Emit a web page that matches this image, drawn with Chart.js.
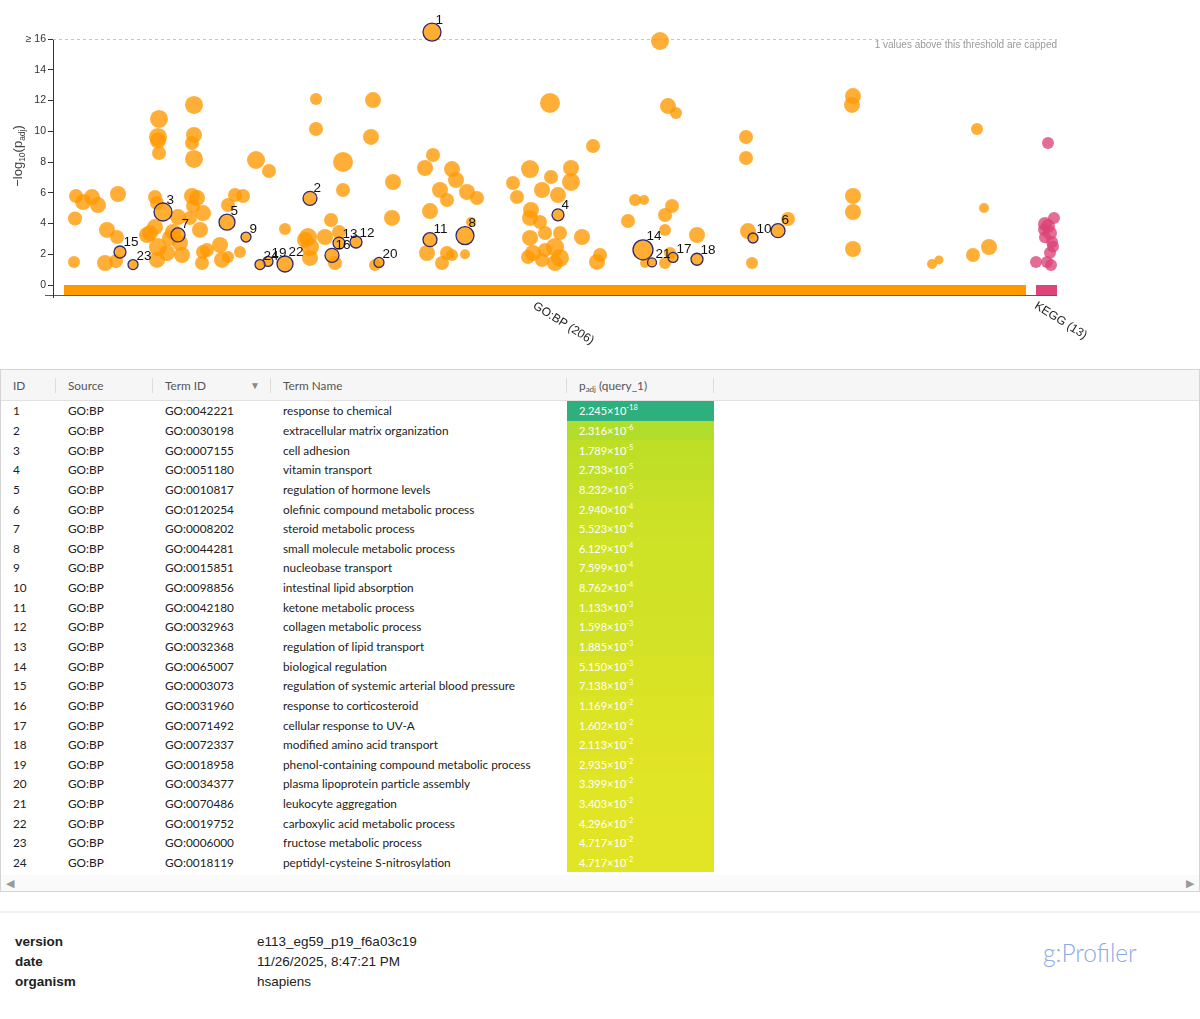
<!DOCTYPE html>
<html>
<head>
<meta charset="utf-8">
<script src="https://cdn.jsdelivr.net/npm/chart.js@4.4.0/dist/chart.umd.min.js"></script>
<style>
  body { margin: 0; background: #fff; font-family: Lato, "Open Sans", sans-serif; }
  #plot { position: absolute; left: 0; top: 0; width: 1200px; height: 360px; }
  #tbl { position: absolute; left: 0; top: 369px; width: 1198px; height: 521px; border: 1px solid #d4d4d4; overflow: hidden; }
  table { border-collapse: collapse; table-layout: fixed; width: 1198px; font-size: 11.8px; color: #222; }
  th { height: 30px; background: #f6f6f6; font-weight: normal; color: #555; text-align: left; padding: 0 0 0 12px; position: relative; border-bottom: 1px solid #e2e2e2; white-space: nowrap; }
  th.sep::after { content: ''; position: absolute; right: 0; top: 8px; height: 15px; border-right: 1px solid #dcdcdc; }
  td { height: 19.65px; padding: 0 0 0 12px; white-space: nowrap; }
  td.p { color: #fff; font-size: 11px; }
  sup { font-size: 7.5px; vertical-align: 5px; line-height: 0; }
  sub { font-size: 8px; vertical-align: -2px; line-height: 0; }
  #scroll { position: absolute; left: 0; bottom: 0; width: 1198px; height: 16px; background: #fafafa; }
  #scroll span { position: absolute; top: 1px; color: #999; font-size: 11px; }
  #hr { position: absolute; left: 0; top: 911px; width: 1200px; height: 2px; background: #f0f0f0; }
  .meta { position: absolute; left: 15px; font: 13.5px "Liberation Sans", Arial, sans-serif; color: #222; }
  .meta b { display: inline-block; width: 242px; }
  #logo { position: absolute; left: 1043px; top: 938px; font: 300 24.5px Lato, sans-serif; color: #8eaae2; }
</style>
</head>
<body>
<div id="plot"><canvas id="myChart" width="1200" height="360"></canvas></div>
<div id="tbl">
  <table id="terms"></table>
  <div id="scroll"><span style="left:5px">&#9664;</span><span style="right:5px">&#9654;</span></div>
</div>
<div id="hr"></div>
<div class="meta" style="top:934px"><b>version</b>e113_eg59_p19_f6a03c19</div>
<div class="meta" style="top:954px"><b>date</b>11/26/2025, 8:47:21 PM</div>
<div class="meta" style="top:974px"><b>organism</b>hsapiens</div>
<div id="logo">g:Profiler</div>
<script>
// eixo y
var yTicks = [0, 2, 4, 6, 8, 10, 12, 14, 16];
var yCap = 16;
var capShown = 16.45;

// fontes de dados (barras no eixo x)
var srcNames = ["GO:BP", "KEGG"];
var srcCounts = [206, 13];
var srcFrom = [64, 1036];
var srcTo = [1026, 1057];
var srcColors = ["#ff9900", "#dd4477"];

// pontos GO:BP (posicao, -log10 padj, tamanho)
var goX = [76, 75, 74, 83, 92, 98, 107, 105, 118, 117, 116, 147, 150, 155, 157, 155, 159, 158, 158, 159,
  158, 167, 157, 170, 173, 178, 180, 182, 190, 192, 193, 200, 203, 194, 194, 192, 194, 197, 203, 202,
  207, 220, 222, 228, 235, 243, 228, 240, 256, 269, 285, 305, 308, 310, 310, 316, 316, 343, 343, 331,
  325, 339, 335, 373, 371, 393, 392, 375, 433, 425, 440, 447, 452, 456, 467, 477, 430, 427, 442, 447,
  452, 465, 471, 513, 517, 530, 542, 551, 571, 571, 558, 550, 593, 531, 530, 540, 530, 545, 560, 582,
  533, 545, 555, 560, 555, 542, 528, 597, 600, 628, 635, 644, 668, 676, 660, 672, 665, 665, 670, 665,
  645, 697, 746, 746, 748, 752, 788, 853, 852, 853, 853, 853, 932, 939, 973, 989, 977, 984];
var goY = [5.79, 4.33, 1.50, 5.40, 5.72, 5.20, 3.58, 1.43, 5.92, 3.12, 1.55, 3.25, 3.38, 3.77, 5.33, 5.72, 10.80, 9.63, 9.40, 8.59,
  2.47, 2.08, 1.63, 3.06, 3.45, 4.42, 2.73, 1.95, 4.36, 5.79, 5.14, 3.58, 4.68, 11.71, 9.76, 9.24, 8.20, 5.66, 2.15, 1.43,
  2.28, 2.60, 1.63, 1.82, 5.85, 5.79, 5.20, 2.15, 8.13, 7.41, 3.64, 2.93, 3.12, 2.47, 1.76, 12.10, 10.15, 8.00, 6.18, 4.23,
  3.12, 3.45, 1.43, 12.03, 9.63, 6.70, 4.36, 1.30, 8.46, 7.61, 6.18, 5.53, 7.54, 6.83, 6.05, 5.66, 4.81, 2.08, 1.43, 2.08,
  1.95, 2.00, 4.10, 6.63, 5.72, 7.54, 6.18, 7.02, 7.61, 6.70, 5.85, 11.84, 9.04, 4.88, 4.36, 4.10, 3.06, 3.38, 3.38, 3.12,
  2.08, 2.28, 2.47, 1.76, 1.43, 1.63, 1.82, 1.50, 1.95, 4.16, 5.53, 5.53, 11.64, 11.19, 15.87, 5.14, 4.55, 3.58, 2.08, 1.43,
  1.43, 3.25, 9.63, 8.26, 3.51, 1.43, 4.29, 12.29, 11.71, 5.79, 4.75, 2.34, 1.37, 1.63, 1.95, 2.47, 10.15, 5.01];
var goR = [7, 7, 6, 8, 8, 8, 8, 8, 8, 7, 7, 8, 8, 8, 7, 7, 9, 9, 8, 7,
  9, 8, 8, 8, 8, 8, 8, 8, 7, 8, 7, 8, 8, 9, 8, 7, 9, 8, 7, 7,
  7, 8, 8, 6, 7, 7, 7, 6, 9, 7, 6, 8, 9, 9, 8, 6, 7, 10, 7, 7,
  8, 7, 7, 8, 8, 8, 8, 6, 7, 8, 8, 7, 8, 8, 8, 7, 8, 8, 7, 7,
  6, 5, 5, 7, 7, 9, 8, 7, 8, 9, 8, 10, 7, 8, 8, 7, 8, 7, 7, 8,
  8, 7, 9, 9, 8, 7, 7, 8, 7, 7, 6, 5, 8, 6, 9, 7, 7, 6, 6, 6,
  5, 8, 7, 7, 8, 6, 7, 8, 8, 8, 8, 8, 5, 4.5, 7, 8, 6, 5, 6];

// pontos KEGG
var keggX = [1048, 1054, 1045, 1048, 1050, 1045, 1052, 1050, 1053, 1036, 1047, 1051, 1044];
var keggY = [9.24, 4.36, 3.97, 3.84, 3.38, 3.10, 2.80, 2.10, 2.50, 1.50, 1.50, 1.30, 3.60];
var keggR = [6, 6, 7, 7, 7, 6, 6, 6, 6, 6, 6, 6, 6];

// termos destacados (tabela)
var hlX = [432, 310, 163, 558, 227, 778, 178, 465, 246, 753, 430, 356, 339, 643, 120, 332, 673, 697, 268, 379, 652, 285, 133, 260];
var hlR = [9, 7, 9, 6, 8, 7, 7, 9, 5, 5, 7, 6, 6, 10, 6, 7, 5, 6, 5, 5, 4.5, 8, 5, 5];
var termIds = ["GO:0042221", "GO:0030198", "GO:0007155", "GO:0051180", "GO:0010817", "GO:0120254", "GO:0008202", "GO:0044281",
  "GO:0015851", "GO:0098856", "GO:0042180", "GO:0032963", "GO:0032368", "GO:0065007", "GO:0003073", "GO:0031960",
  "GO:0071492", "GO:0072337", "GO:0018958", "GO:0034377", "GO:0070486", "GO:0019752", "GO:0006000", "GO:0018119"];
var termNames = ["response to chemical", "extracellular matrix organization", "cell adhesion", "vitamin transport",
  "regulation of hormone levels", "olefinic compound metabolic process", "steroid metabolic process",
  "small molecule metabolic process", "nucleobase transport", "intestinal lipid absorption", "ketone metabolic process",
  "collagen metabolic process", "regulation of lipid transport", "biological regulation",
  "regulation of systemic arterial blood pressure", "response to corticosteroid", "cellular response to UV-A",
  "modified amino acid transport", "phenol-containing compound metabolic process", "plasma lipoprotein particle assembly",
  "leukocyte aggregation", "carboxylic acid metabolic process", "fructose metabolic process", "peptidyl-cysteine S-nitrosylation"];
var pMant = ["2.245", "2.316", "1.789", "2.733", "8.232", "2.940", "5.523", "6.129", "7.599", "8.762", "1.133", "1.598",
  "1.885", "5.150", "7.138", "1.169", "1.602", "2.113", "2.935", "3.399", "3.403", "4.296", "4.717", "4.717"];
var pExp = [-18, -6, -5, -5, -5, -4, -4, -4, -4, -4, -3, -3, -3, -3, -3, -2, -2, -2, -2, -2, -2, -2, -2, -2];

function negLog(i) {
  return -Math.log10(parseFloat(pMant[i])) - pExp[i];
}

// cores da tabela (escala viridis)
var vir = [[0.5, 33, 145, 140], [0.6, 34, 168, 132], [0.7, 68, 191, 112], [0.8, 122, 209, 81], [0.9, 189, 223, 38], [1.0, 240, 231, 37]];
function cellColor(v) {
  var t = Math.max(0.5, Math.min(1, 1 - v / 48));
  for (var k = 0; k < vir.length - 1; k++) {
    if (t <= vir[k + 1][0]) {
      var f = (t - vir[k][0]) / (vir[k + 1][0] - vir[k][0]);
      var c = [1, 2, 3].map(function (j) { return Math.round(vir[k][j] + f * (vir[k + 1][j] - vir[k][j])); });
      return "rgb(" + c.join(",") + ")";
    }
  }
  return "rgb(240,231,37)";
}

var html = '<colgroup><col style="width:55px"><col style="width:97px"><col style="width:118px"><col style="width:296px"><col style="width:147px"><col></colgroup>';
html += '<tr><th class="sep">ID</th><th class="sep">Source</th><th class="sep">Term ID<span style="position:absolute;left:97px;top:9px;color:#888;font-size:10px">&#9660;</span></th><th class="sep">Term Name</th><th class="sep">p<sub>adj</sub> (query_1)</th><th></th></tr>';
for (var i = 0; i < termIds.length; i++) {
  html += "<tr><td>" + (i + 1) + "</td><td>GO:BP</td><td>" + termIds[i] + "</td><td>" + termNames[i] +
    '</td><td class="p" style="background:' + cellColor(negLog(i)) + '">' + pMant[i] + "&times;10<sup>" + pExp[i] + "</sup></td><td></td></tr>";
}
document.getElementById("terms").innerHTML = html;

var goPts = goX.map(function (x, i) { return { x: x, y: goY[i], r: goR[i] }; });
var keggPts = keggX.map(function (x, i) { return { x: x, y: keggY[i], r: keggR[i] }; });
var hlPts = hlX.map(function (x, i) {
  var v = negLog(i);
  return { x: x, y: v > yCap ? capShown : v, r: hlR[i] };
});

var decor = {
  id: "decor",
  beforeDatasetsDraw: function (chart) {
    var c = chart.ctx, xs = chart.scales.x, ys = chart.scales.y, a = chart.chartArea;
    c.save();
    // linha do limite
    c.strokeStyle = "#c4c4c4";
    c.lineWidth = 1;
    c.setLineDash([3, 3]);
    c.beginPath();
    c.moveTo(a.left, Math.round(ys.getPixelForValue(yCap)) + 0.5);
    c.lineTo(xs.getPixelForValue(srcTo[srcTo.length - 1]), Math.round(ys.getPixelForValue(yCap)) + 0.5);
    c.stroke();
    c.setLineDash([]);
    c.fillStyle = "#999";
    c.font = "10px 'Liberation Sans', Arial";
    c.textAlign = "right";
    c.textBaseline = "middle";
    c.fillText("1 values above this threshold are capped", xs.getPixelForValue(srcTo[srcTo.length - 1]), ys.getPixelForValue(yCap) + 6);
    // barras das fontes
    var y0 = ys.getPixelForValue(0), y1 = ys.getPixelForValue(-0.65);
    for (var k = 0; k < srcNames.length; k++) {
      var x0 = xs.getPixelForValue(srcFrom[k]), x1 = xs.getPixelForValue(srcTo[k]);
      c.fillStyle = srcColors[k];
      c.fillRect(x0, y0, x1 - x0, y1 - y0);
      c.save();
      c.translate((x0 + x1) / 2 - 11, y1 + 10);
      c.rotate(32 * Math.PI / 180);
      c.fillStyle = "#222";
      c.font = "12px 'Liberation Sans', Arial";
      c.textAlign = "left";
      c.textBaseline = "middle";
      c.fillText(srcNames[k] + " (" + srcCounts[k] + ")", 0, 0);
      c.restore();
    }
    c.strokeStyle = "rgba(50,50,50,0.8)";
    c.beginPath();
    c.moveTo(a.left - 8, Math.round(y1) + 0.5);
    c.lineTo(xs.getPixelForValue(srcTo[srcTo.length - 1]), Math.round(y1) + 0.5);
    c.stroke();
    // titulo do eixo y
    c.translate(18, 156);
    c.rotate(-Math.PI / 2);
    c.fillStyle = "#444";
    c.textBaseline = "alphabetic";
    c.textAlign = "left";
    var parts = [["\u2212log", 13, 0], ["10", 8.5, 3], ["(p", 13, 0], ["adj", 8.5, 3], [")", 13, 0]];
    var w = 0;
    parts.forEach(function (p) { c.font = p[1] + "px 'Liberation Sans', Arial"; w += c.measureText(p[0]).width; });
    var px = -w / 2;
    parts.forEach(function (p) {
      c.font = p[1] + "px 'Liberation Sans', Arial";
      c.fillText(p[0], px, 4 + p[2]);
      px += c.measureText(p[0]).width;
    });
    c.restore();
  },
  afterDatasetsDraw: function (chart) {
    var c = chart.ctx;
    var meta = chart.getDatasetMeta(0);
    c.save();
    c.fillStyle = "#111";
    c.font = "13.5px 'Liberation Sans', Arial";
    c.textAlign = "left";
    c.textBaseline = "alphabetic";
    meta.data.forEach(function (el, i) {
      c.fillText(String(i + 1), el.x + 3.5, el.y - hlR[i] + 0.5);
    });
    c.restore();
  }
};

var ctx = document.getElementById("myChart");
var myChart = new Chart(ctx, {
  type: "bubble",
  data: {
    datasets: [
      { label: "destaque", data: hlPts, backgroundColor: "rgba(255,153,0,0.8)", borderColor: "#2e2a6e", borderWidth: 1.3, order: 0, clip: false },
      { label: "GO:BP", data: goPts, backgroundColor: "rgba(255,153,0,0.78)", borderWidth: 0, order: 2, clip: false },
      { label: "KEGG", data: keggPts, backgroundColor: "rgba(221,68,119,0.78)", borderWidth: 0, order: 1, clip: false },
    ],
  },
  options: {
    responsive: false,
    animation: false,
    events: [],
    devicePixelRatio: 1,
    layout: { padding: { left: 0, right: 140, top: 39, bottom: 62.7 } },
    plugins: { legend: { display: false }, tooltip: { enabled: false } },
    scales: {
      x: { type: "linear", min: 53, max: 1060, display: false },
      y: {
        min: -0.8,
        max: 16,
        afterBuildTicks: function (s) { s.ticks = yTicks.map(function (v) { return { value: v }; }); },
        afterFit: function (s) { s.width = 53; },
        ticks: {
          callback: function (v) { return v === yCap ? "\u2265 16" : v; },
          font: { size: 10.5, family: "'Liberation Sans', Arial" },
          color: "#333",
          padding: 2,
        },
        grid: { drawOnChartArea: false, tickLength: 5, color: "#333" },
        border: { color: "#333" },
      },
    },
  },
  plugins: [decor],
});
</script>
</body>
</html>
